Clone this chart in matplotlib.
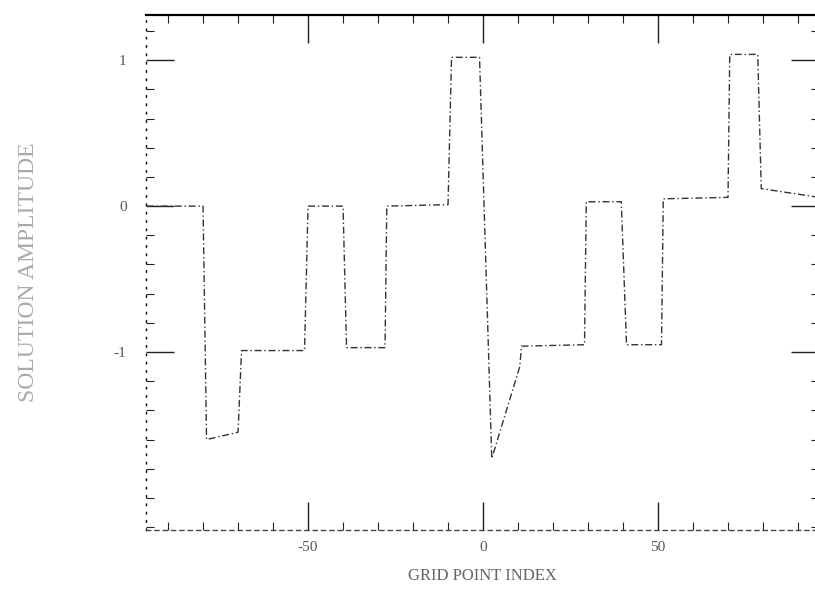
import matplotlib
matplotlib.use("Agg")
import matplotlib.pyplot as plt
from matplotlib.ticker import MultipleLocator, FixedLocator

# grid point index and solution value
x_idx = [-96, -80, -79, -70, -69, -51, -50, -40, -39, -28, -27.5,
         -10, -9, -1, 2.5, 10.5, 11, 29, 29.5, 39.5, 41, 51, 51.5,
         70, 70.5, 78.5, 79.5, 96]
u_val = [0.0, 0.0, -1.6, -1.55, -0.99, -0.99, 0.0, 0.0, -0.97, -0.97, 0.0,
         0.01, 1.02, 1.02, -1.73, -1.1, -0.96, -0.95, 0.03, 0.03, -0.95, -0.95, 0.05,
         0.06, 1.04, 1.04, 0.12, 0.06]

x_ticks = [-50, 0, 50]
x_labels = ["-50", "0", "50"]
y_ticks = [-1, 0, 1]
y_labels = ["-1", "0", "1"]

plt.rcParams['font.family'] = ['Liberation Serif', 'DejaVu Serif']

fig = plt.figure(figsize=(8.15, 5.95), dpi=100)
ax = fig.add_axes([146/815, 65/595, (819-146)/815, 515/595])

ax.plot(x_idx, u_val, color='#333333', lw=1.0, linestyle=(0, (5, 2, 1, 2)))

ax.set_xlim(-96.3, 96)
ax.set_ylim(-2.22, 1.31)

ax.xaxis.set_major_locator(FixedLocator(x_ticks))
ax.set_xticklabels(x_labels)
ax.xaxis.set_minor_locator(MultipleLocator(10))
ax.yaxis.set_major_locator(FixedLocator(y_ticks))
ax.set_yticklabels(y_labels)
ax.yaxis.set_minor_locator(MultipleLocator(0.2))

ax.tick_params(which='both', direction='in', top=True, right=True, colors='#222222')
ax.tick_params(which='major', length=20, width=1.0, labelsize=11, labelcolor='#555555')
ax.tick_params(which='minor', length=6, width=0.8)
ax.tick_params(axis='x', which='major', pad=8)
ax.tick_params(axis='y', which='major', pad=14)

# the scan leaves the frame solid on top and broken elsewhere
ax.spines['top'].set_linewidth(1.6)
ax.spines['left'].set_linewidth(1.0)
ax.spines['left'].set_linestyle((0, (1, 5)))
ax.spines['bottom'].set_linewidth(1.0)
ax.spines['bottom'].set_linestyle((0, (3, 3)))
ax.spines['bottom'].set_color('#444444')

ax.set_xlabel("GRID POINT INDEX", fontsize=12, color='#666666', labelpad=10)
ax.set_ylabel("SOLUTION AMPLITUDE", fontsize=17, color='#aaaaaa', labelpad=54)

fig.savefig("out.png", dpi=100)
